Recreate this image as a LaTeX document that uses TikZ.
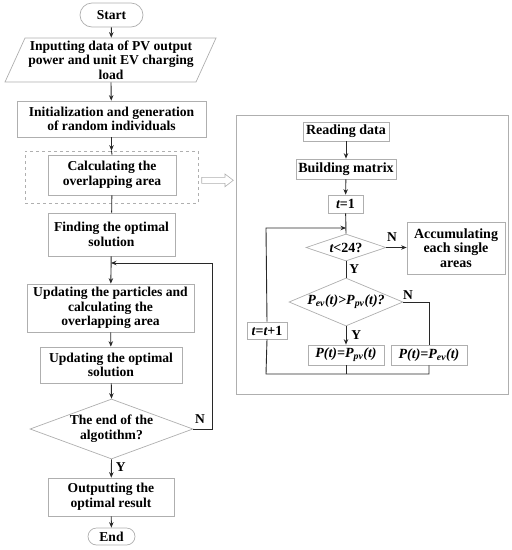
\documentclass[tikz,border=0pt]{standalone}
\usepackage{fontspec}
\setmainfont{Liberation Serif}
\usetikzlibrary{arrows.meta,shapes.geometric,calc}
\definecolor{boxgray}{RGB}{175,175,175}
\definecolor{linegray}{RGB}{40,40,40}
\tikzset{
  box/.style={draw=boxgray, line width=0.7pt, fill=white, align=center, inner sep=0pt,
    font=\fontsize{13.6}{14.6}\selectfont\bfseries},
  sbox/.style={box, font=\fontsize{14}{14.6}\selectfont\bfseries},
  conn/.style={draw=linegray, line width=0.9pt},
  arr/.style={conn, -{Stealth[length=5.5pt,width=4.5pt]}},
  lab/.style={font=\fontsize{13.5}{14}\selectfont\bfseries, inner sep=0pt}
}
\begin{document}
\begin{tikzpicture}[x=1pt,y=-1pt]
\useasboundingbox (0,0) rectangle (512,550);
% ---------- left flow ----------
\node[box, rounded corners=12pt, minimum width=63pt, minimum height=24pt] (start) at (111.5,15) {Start};
\draw[boxgray, line width=0.7pt, fill=white] (25,38) -- (216,38) -- (196,82) -- (5,82) -- cycle;
\node[box, draw=none, fill=none, minimum width=190pt, minimum height=44pt] (input) at (111,60)
  {Inputting data of PV output\\power and unit EV charging\\load};
\node[box, minimum width=189pt, minimum height=36pt] (init) at (111.5,119)
  {Initialization and generation\\of random individuals};
\node[draw=boxgray, dashed, line width=0.6pt, minimum width=173pt, minimum height=52pt, inner sep=0pt] (dash) at (111.5,177) {};
\node[box, minimum width=128pt, minimum height=40pt] (calc) at (112,175)
  {Calculating the\\overlapping area};
\node[box, minimum width=127pt, minimum height=43pt] (find) at (111.5,234.5)
  {Finding the optimal\\solution};
\node[box, minimum width=167pt, minimum height=48pt] (upd) at (110.5,308)
  {Updating the particles and\\calculating the\\overlapping area};
\node[box, minimum width=142pt, minimum height=36pt] (updopt) at (111,365)
  {Updating the optimal\\solution};
\node[box, diamond, minimum width=163pt, minimum height=60pt] (end?) at (111.5,429) {};
\node[box, draw=none, fill=none] (endtxt) at (111.5,429) {The end of the\\algotithm?};
\node[box, minimum width=126pt, minimum height=38pt] (out) at (111,497)
  {Outputting the\\optimal result};
\node[box, rounded corners=8.5pt, minimum width=47pt, minimum height=17pt] (end) at (111.5,536.5) {End};

\coordinate (join) at (111,263);
\coordinate (rt) at (212,263);
\coordinate (rb) at (212,429);

\draw[arr] (start) -- (input);
\draw[arr] (input.south) -- (init);
\draw[arr] (init) -- (dash.north);
\draw[conn] (dash.north) -- (calc.north);
\draw[conn] (calc) -- (find);
\draw[arr] (find) -- (upd);
\draw[arr] (upd) -- (updopt);
\draw[arr] (updopt) -- (end?.north);
\draw[arr] (end?.south) -- (out) node[lab, pos=0.4, right=4pt] {Y};
\draw[arr] (out) -- (end);
\draw[arr] (end?.east) -- (rb) -- (rt) -- (join);
\node[lab] (nmain) at (200,419) {N};

% hollow arrow
\draw[boxgray, line width=0.6pt] (201.7,177.3) -- (225,177.3) -- (225,174) -- (233.3,180.3)
  -- (225,186.7) -- (225,183.3) -- (201.7,183.3) -- cycle;

% ---------- right panel ----------
\node[draw=boxgray, line width=0.7pt, minimum width=272pt, minimum height=279pt, inner sep=0pt] (panel) at (372,254.5) {};
\node[sbox, minimum width=86pt, minimum height=19pt] (read) at (346,131.5) {Reading data};
\node[sbox, minimum width=100pt, minimum height=20pt] (build) at (346,169) {Building matrix};
\node[sbox, minimum width=35pt, minimum height=18pt] (t1) at (345.5,204) {\itshape t\upshape=1};
\node[box, diamond, minimum width=80pt, minimum height=27pt, aspect=3] (d1) at (346,247.5) {};
\node[sbox, draw=none, fill=none] (d1t) at (346,248) {\itshape t\upshape<24?};
\node[sbox, minimum width=98pt, minimum height=52pt] (acc) at (456,248)
  {Accumulating\\each single\\areas};
\node[box, diamond, minimum width=114pt, minimum height=48pt] (d2) at (346,302) {};
\node[sbox, draw=none, fill=none] (d2t) at (346,302)
  {\itshape P\textsubscript{ev}(t)>P\textsubscript{pv}(t)?};
\node[sbox, minimum width=76pt, minimum height=20pt] (ppv) at (346,355)
  {\itshape P(t)=P\textsubscript{pv}(t)};
\node[sbox, minimum width=76pt, minimum height=20pt] (pev) at (429,355)
  {\itshape P(t)=P\textsubscript{ev}(t)};
\node[sbox, minimum width=40pt, minimum height=17pt] (tinc) at (267,330.5)
  {\itshape t\upshape=\itshape t\upshape+1};

\coordinate (j2) at (346,228);
\coordinate (lt) at (266,228);
\coordinate (lb) at (266,374);
\coordinate (mb) at (346,374);
\coordinate (rb2) at (429,374);
\coordinate (rt2) at (429,302);

\draw[arr] (read) -- (build);
\draw[arr] (build) -- (t1);
\draw[conn] (t1) -- (d1.north);
\draw[arr] (d1.east) -- (acc.west |- d1.east);
\draw[conn] (d1.south) -- (d2.north) node[lab, pos=0.45, right=3pt] {Y};
\draw[arr] (d2.south) -- (ppv.north) node[lab, pos=0.45, right=5pt] {Y};
\draw[conn] (d2.east) -- (rt2) -- (pev.north);
\draw[conn] (pev.south) -- (rb2) -- (lb) -- (tinc.south);
\draw[conn] (ppv.south) -- (mb);
\draw[arr] (tinc.north) -- (lt) -- (j2);
\node[lab] (n1) at (392,237) {N};
\node[lab] (n2) at (408,295) {N};
\end{tikzpicture}
\end{document}
